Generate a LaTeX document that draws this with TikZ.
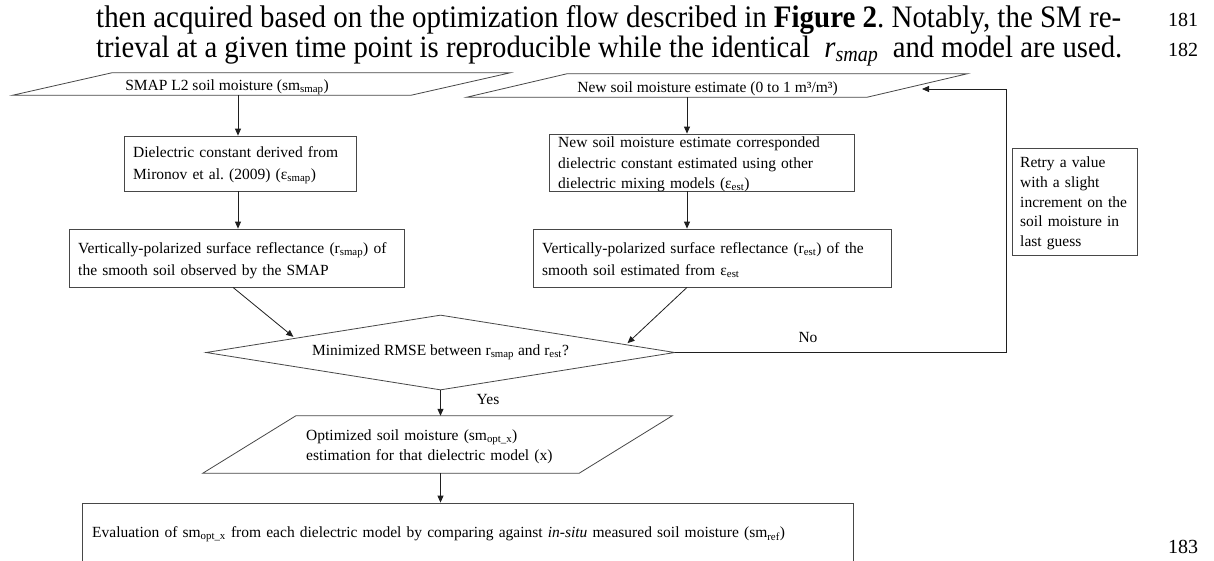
\documentclass[tikz,border=0pt]{standalone}
\usepackage{fontspec}
\setmainfont{Liberation Serif}
\usetikzlibrary{arrows.meta,shapes.geometric,calc}
\newcommand\drawparal[2]{\draw[shapeline] ([xshift=#2]#1.north west) -- (#1.north east) -- ([xshift=-#2]#1.south east) -- (#1.south west) -- cycle;}
\frenchspacing
\begin{document}
\begin{tikzpicture}[x=1pt,y=-1pt,
  shapeline/.style={draw=black!72, line width=0.8pt},
  arr/.style={draw=black!88, line width=0.8pt, -{Triangle[length=7pt,width=6pt]}},
  area/.style={inner sep=0pt, draw=none},
  boxshape/.style={shapeline, inner sep=0pt},
  dtext/.style={inner sep=0pt, font=\fontsize{15.5}{21.5}\selectfont},
  btext/.style={inner sep=0pt, align=left, anchor=base west, font=\fontsize{15.5}{21.5}\selectfont},
  hdr/.style={anchor=base west, inner sep=0pt},
  lnum/.style={anchor=base west, inner sep=0pt, font=\fontsize{20}{24}\selectfont}
]
\useasboundingbox (0,0) rectangle (1214,560);
\fill[white] (0,0) rectangle (1214,560);
\clip (0,0) rectangle (1214,560);

% header text
\node[hdr] (h1) at (96,27) {\scalebox{1}[1.08]{\resizebox{1025pt}{!}{\fontsize{26}{30}\selectfont then acquired based on the optimization flow described in \textbf{Figure 2}. Notably, the SM re-}}};
\node[hdr] (h2) at (96,57) {\scalebox{1}[1.08]{\resizebox{1026pt}{!}{\fontsize{26}{30}\selectfont trieval at a given time point is reproducible while the identical \ \textit{r}\textsubscript{\textit{smap}} \ and model are used.}}};
\node[lnum] (n181) at (1168,26) {181};
\node[lnum] (n182) at (1168,56) {182};
\node[lnum] (n183) at (1168,553) {183};

% column coordinates
\coordinate (c1) at (238,0);
\coordinate (c2) at (687,0);
\coordinate (lp) at (1006,0);
\coordinate (tipin) at (922,89);

% left parallelogram
\node[area, minimum width=497pt, minimum height=22pt] (p1) at (261.5,84) {};
\drawparal{p1}{99pt}
\node[dtext, anchor=base] (t1) at (227,90) {SMAP L2 soil moisture (sm\textsubscript{smap})};

% right parallelogram
\node[area, minimum width=500pt, minimum height=23pt] (p2) at (717,85.5) {};
\drawparal{p2}{100pt}
\node[dtext, anchor=base] (t2) at (707.5,92) {New soil moisture estimate (0 to 1 m³/m³)};

% boxes
\node[boxshape, minimum width=232pt, minimum height=55pt] (b1) at (240,163.5) {};
\node[btext, text width=220pt] (b1t) at (133,157.5) {Dielectric constant derived from\\ Mironov et al. (2009) (ε\textsubscript{smap})};

\node[boxshape, minimum width=335pt, minimum height=58pt] (b2) at (236.5,258) {};
\node[btext, text width=330pt] (b2t) at (78,253.5) {Vertically-polarized surface reflectance (r\textsubscript{smap}) of\\ the smooth soil observed by the SMAP};

\node[boxshape, minimum width=305pt, minimum height=57pt] (b3) at (701.5,162.5) {};
\node[btext, text width=295pt, font=\fontsize{15.5}{20.5}\selectfont] (b3t) at (558,147.5) {New soil moisture estimate corresponded\\ dielectric constant estimated using other\\ dielectric mixing models (ε\textsubscript{est})};

\node[boxshape, minimum width=358pt, minimum height=58pt] (b4) at (712,258) {};
\node[btext, text width=345pt] (b4t) at (542,253.5) {Vertically-polarized surface reflectance (r\textsubscript{est}) of the\\ smooth soil estimated from ε\textsubscript{est}};

\node[boxshape, minimum width=125pt, minimum height=107pt] (r) at (1074.5,201.5) {};
\node[btext, text width=115pt, font=\fontsize{15.5}{19.8}\selectfont] (rt) at (1020,167.5) {Retry a value\\ with a slight\\ increment on the\\ soil moisture in\\ last guess};

% decision
\node[shape=diamond, shapeline, aspect=6.25, inner sep=0pt, minimum width=469pt, minimum height=75pt, font=\fontsize{15.5}{21.5}\selectfont] (d) at (440.5,352.5) {Minimized RMSE between r\textsubscript{smap} and r\textsubscript{est}?};
\node[dtext] (no) at (808,337) {No};
\node[dtext] (yes) at (488,399) {Yes};

% optimized parallelogram
\node[area, minimum width=469pt, minimum height=57pt] (p3) at (437.5,444.5) {};
\drawparal{p3}{93pt}
\node[btext, text width=300pt, font=\fontsize{15.5}{20.3}\selectfont] (t3) at (306,440.5) {Optimized soil moisture (sm\textsubscript{opt\_x})\\ estimation for that dielectric model (x)};

% final box
\node[boxshape, minimum width=771pt, minimum height=60pt] (f) at (467.5,533) {};
\node[btext, text width=760pt] (ft) at (92,537.5) {Evaluation of sm\textsubscript{opt\_x} from each dielectric model by comparing against \textit{in-situ} measured soil moisture (sm\textsubscript{ref})};

% connectors
\draw[arr] (p1.south -| c1) -- (b1.north -| c1);
\draw[arr] (b1.south -| c1) -- (b2.north -| c1);
\draw[arr] (p2.south -| c2) -- (b3.north -| c2);
\draw[arr] (b3.south -| c2) -- (b4.north -| c2);
\draw[arr, shorten >=2pt] ([xshift=-3.5pt]b2.south) -- ($(d.west)!0.38!(d.north)$);
\draw[arr, shorten >=2pt] (b4.south -| c2) -- ($(d.east)!0.21!(d.north)$);
\draw[arr] (d.east) -- (d.east -| lp) -- (tipin -| lp) -- (tipin);
\draw[arr] (d.south) -- (p3.north -| d.south);
\draw[arr] (p3.south -| d.south) -- (f.north -| d.south);
\end{tikzpicture}
\end{document}
